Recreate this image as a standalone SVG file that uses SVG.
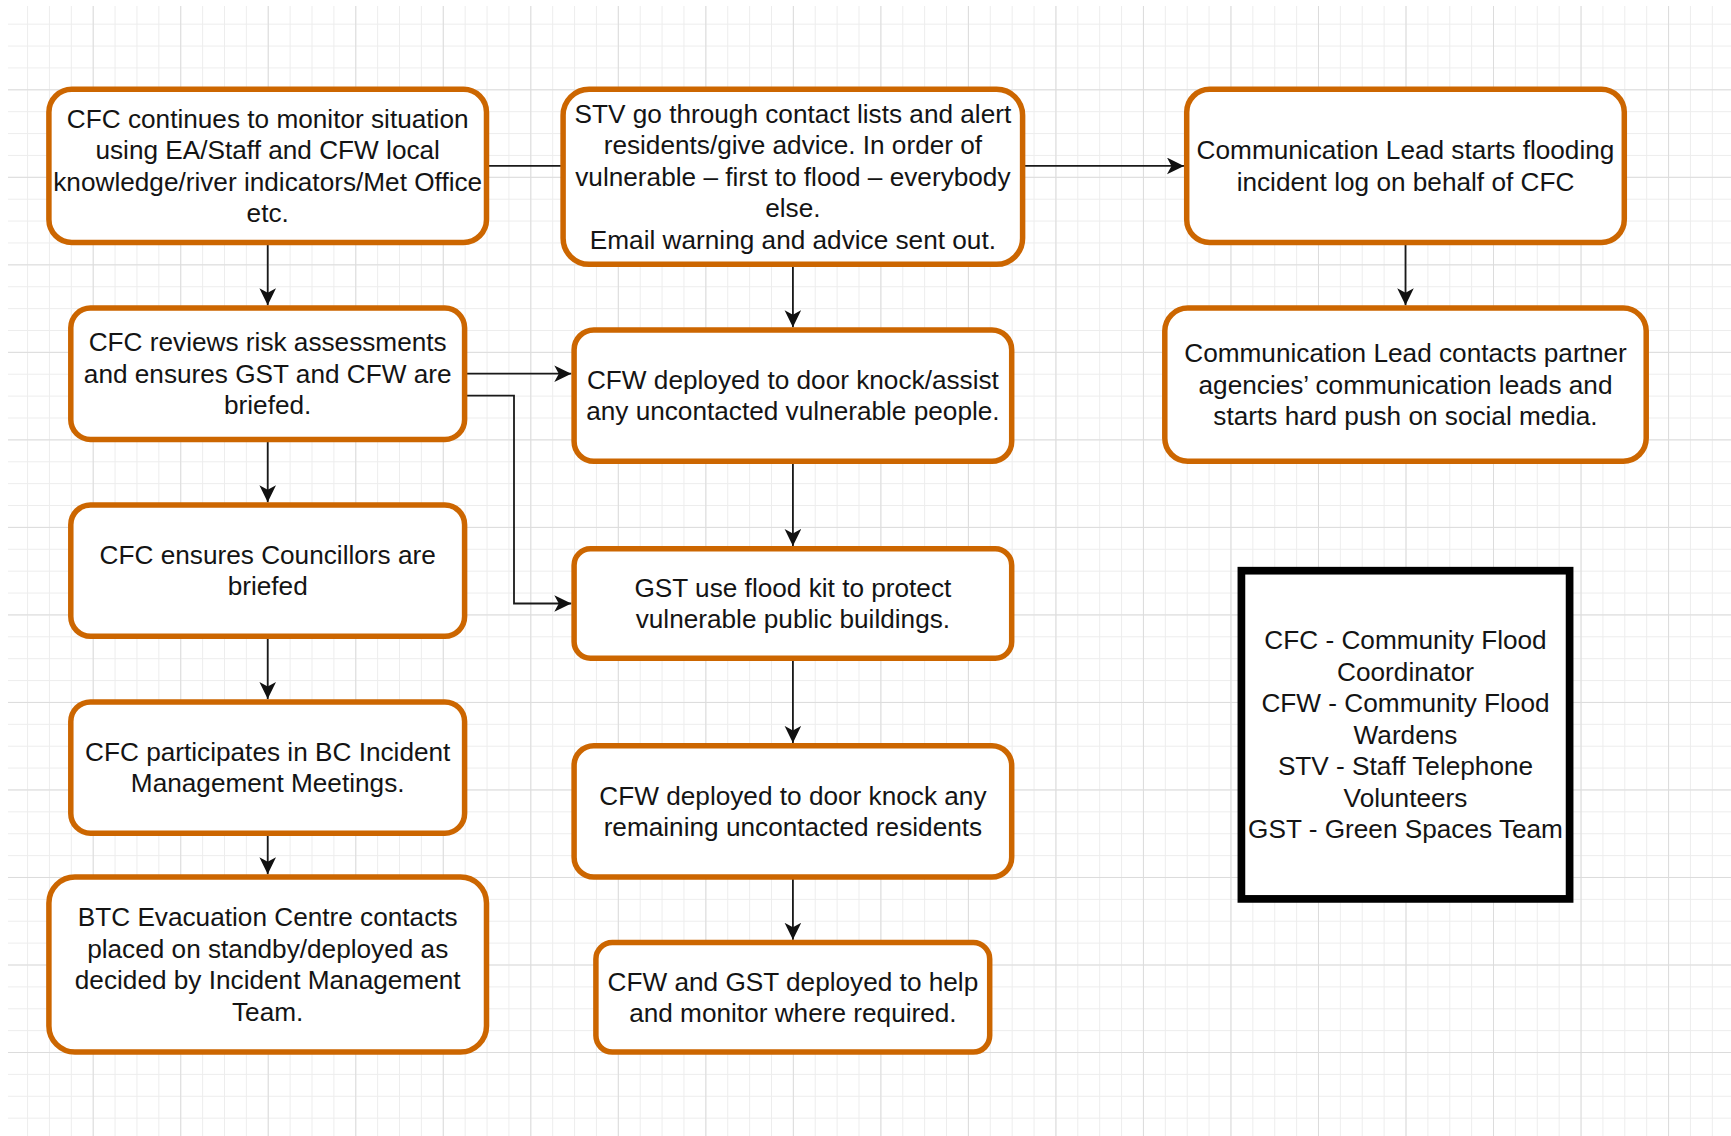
<svg xmlns="http://www.w3.org/2000/svg" width="1731" height="1136" viewBox="0 0 1731 1136">
  <defs>
    <!-- background grid: minor cells every 21.88px, major every 4 cells -->
    <pattern id="gridMinor" patternUnits="userSpaceOnUse" x="92.7" y="89.3" width="21.88" height="21.88">
      <path d="M0,0.5 H21.88 M0.5,0 V21.88" fill="none" stroke="#ededed" stroke-width="1"/>
    </pattern>
    <pattern id="gridMajor" patternUnits="userSpaceOnUse" x="92.7" y="89.3" width="87.52" height="87.52">
      <path d="M0,0.5 H87.52 M0.5,0 V87.52" fill="none" stroke="#dcdcdc" stroke-width="1"/>
    </pattern>
    <marker id="arrow" markerUnits="userSpaceOnUse" markerWidth="18" markerHeight="18" refX="17" refY="8.3" orient="auto">
      <path d="M0,0 L17,8.3 L0,16.6 L4.5,8.3 Z" fill="#111"/>
    </marker>
  </defs>
  <style>
    .step rect { fill: #ffffff; stroke: #cc6600; stroke-width: 5.5; }
    .legend rect { fill: #ffffff; stroke: #000000; stroke-width: 7.7; }
    text { font-family: "Liberation Sans", Arial, Helvetica, sans-serif; font-size: 26.2px; fill: #141414; text-anchor: middle; }
    .edges path { fill: none; stroke: #1a1a1a; stroke-width: 1.8; marker-end: url(#arrow); }
  </style>

  <rect x="0" y="0" width="1731" height="1136" fill="#ffffff"/>
  <rect x="8" y="6" width="1723" height="1130" fill="url(#gridMinor)"/>
  <rect x="8" y="6" width="1723" height="1130" fill="url(#gridMajor)"/>

  <g id="connectors" class="edges">
    <path d="M486.5,165.9 H1184"/>
    <path d="M267.7,242.5 V305.3"/>
    <path d="M267.7,439.4 V502.2"/>
    <path d="M267.7,636.3 V699.1"/>
    <path d="M267.7,833.2 V874.2"/>
    <path d="M792.9,264.3 V327.2"/>
    <path d="M792.9,461.3 V546"/>
    <path d="M792.9,658.2 V742.9"/>
    <path d="M792.9,877 V939.8"/>
    <path d="M1405.5,242.5 V305.3"/>
    <path d="M464.7,373.7 H571.3"/>
    <path d="M464.7,395.6 H514 V603.5 H571.3"/>
  </g>

  <g id="monitor" class="step">
    <rect x="48.9" y="89.3" width="437.6" height="153.2" rx="23"/>
    <text><tspan x="267.7" y="127.7">CFC continues to monitor situation</tspan><tspan x="267.7" y="159.2">using EA/Staff and CFW local</tspan><tspan x="267.7" y="190.7">knowledge/river indicators/Met Office</tspan><tspan x="267.7" y="222.2">etc.</tspan></text>
  </g>

  <g id="stv-alert" class="step">
    <rect x="563.1" y="89.3" width="459.5" height="175" rx="26"/>
    <text><tspan x="792.9" y="122.8">STV go through contact lists and alert</tspan><tspan x="792.9" y="154.3">residents/give advice. In order of</tspan><tspan x="792.9" y="185.8">vulnerable – first to flood – everybody</tspan><tspan x="792.9" y="217.3">else.</tspan><tspan x="792.9" y="248.8">Email warning and advice sent out.</tspan></text>
  </g>

  <g id="comms-log" class="step">
    <rect x="1186.7" y="89.3" width="437.6" height="153.2" rx="23"/>
    <text><tspan x="1405.5" y="159.2">Communication Lead starts flooding</tspan><tspan x="1405.5" y="190.7">incident log on behalf of CFC</tspan></text>
  </g>

  <g id="risk-review" class="step">
    <rect x="70.8" y="308.1" width="393.8" height="131.3" rx="19.7"/>
    <text><tspan x="267.7" y="351.2">CFC reviews risk assessments</tspan><tspan x="267.7" y="382.7">and ensures GST and CFW are</tspan><tspan x="267.7" y="414.2">briefed.</tspan></text>
  </g>

  <g id="cfw-vulnerable" class="step">
    <rect x="574.1" y="330" width="437.6" height="131.3" rx="19.7"/>
    <text><tspan x="792.9" y="388.9">CFW deployed to door knock/assist</tspan><tspan x="792.9" y="420.4">any uncontacted vulnerable people.</tspan></text>
  </g>

  <g id="comms-partners" class="step">
    <rect x="1164.8" y="308.1" width="481.4" height="153.2" rx="23"/>
    <text><tspan x="1405.5" y="362.2">Communication Lead contacts partner</tspan><tspan x="1405.5" y="393.7">agencies’ communication leads and</tspan><tspan x="1405.5" y="425.2">starts hard push on social media.</tspan></text>
  </g>

  <g id="councillors" class="step">
    <rect x="70.8" y="505" width="393.8" height="131.3" rx="19.7"/>
    <text><tspan x="267.7" y="563.9">CFC ensures Councillors are</tspan><tspan x="267.7" y="595.4">briefed</tspan></text>
  </g>

  <g id="gst-floodkit" class="step">
    <rect x="574.1" y="548.8" width="437.6" height="109.4" rx="16.4"/>
    <text><tspan x="792.9" y="596.7">GST use flood kit to protect</tspan><tspan x="792.9" y="628.2">vulnerable public buildings.</tspan></text>
  </g>

  <g id="incident-meetings" class="step">
    <rect x="70.8" y="701.9" width="393.8" height="131.3" rx="19.7"/>
    <text><tspan x="267.7" y="760.8">CFC participates in BC Incident</tspan><tspan x="267.7" y="792.3">Management Meetings.</tspan></text>
  </g>

  <g id="cfw-remaining" class="step">
    <rect x="574.1" y="745.7" width="437.6" height="131.3" rx="19.7"/>
    <text><tspan x="792.9" y="804.5">CFW deployed to door knock any</tspan><tspan x="792.9" y="836">remaining uncontacted residents</tspan></text>
  </g>

  <g id="evacuation" class="step">
    <rect x="48.9" y="877" width="437.6" height="175" rx="26"/>
    <text><tspan x="267.7" y="926.3">BTC Evacuation Centre contacts</tspan><tspan x="267.7" y="957.8">placed on standby/deployed as</tspan><tspan x="267.7" y="989.3">decided by Incident Management</tspan><tspan x="267.7" y="1020.8">Team.</tspan></text>
  </g>

  <g id="help-monitor" class="step">
    <rect x="595.9" y="942.6" width="393.8" height="109.4" rx="16.4"/>
    <text><tspan x="792.9" y="990.5">CFW and GST deployed to help</tspan><tspan x="792.9" y="1022">and monitor where required.</tspan></text>
  </g>

  <g id="legend" class="legend">
    <rect x="1241.4" y="570.7" width="328.2" height="328.2"/>
    <text><tspan x="1405.5" y="649.3">CFC - Community Flood</tspan><tspan x="1405.5" y="680.8">Coordinator</tspan><tspan x="1405.5" y="712.3">CFW - Community Flood</tspan><tspan x="1405.5" y="743.8">Wardens</tspan><tspan x="1405.5" y="775.3">STV - Staff Telephone</tspan><tspan x="1405.5" y="806.8">Volunteers</tspan><tspan x="1405.5" y="838.3">GST - Green Spaces Team</tspan></text>
  </g>
</svg>
